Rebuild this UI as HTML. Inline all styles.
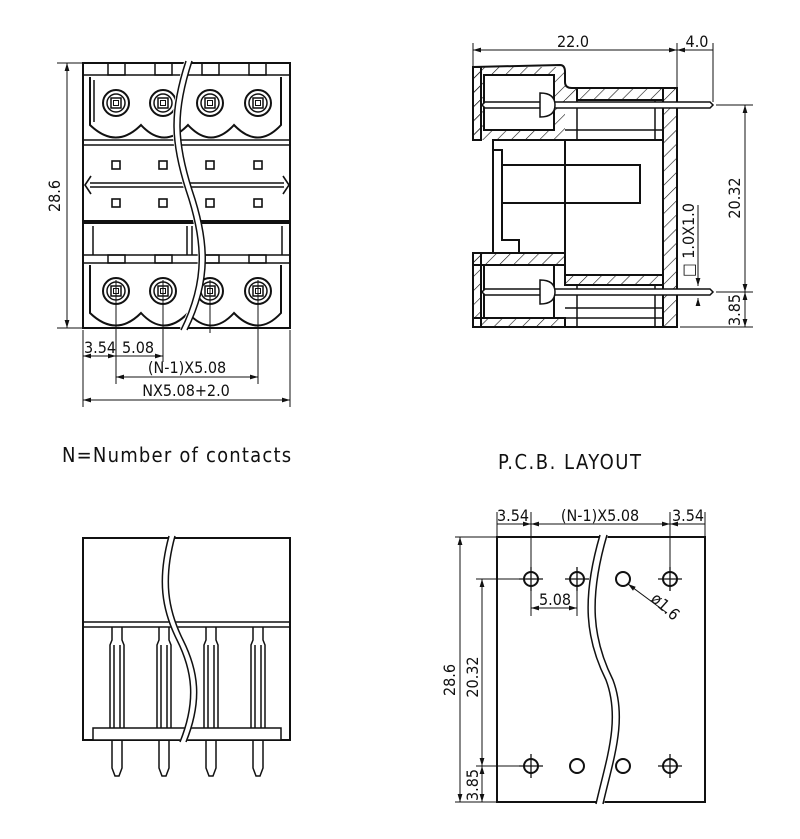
<!DOCTYPE html>
<html><head><meta charset="utf-8"><style>
html,body{margin:0;padding:0;background:#fff}
svg{display:block}
text{font-family:"DejaVu Sans Condensed","Liberation Sans",sans-serif;fill:#111}
</style></head><body>
<svg width="800" height="839" viewBox="0 0 800 839" xmlns="http://www.w3.org/2000/svg">
<defs>
<pattern id="h" width="10" height="10" patternUnits="userSpaceOnUse" patternTransform="rotate(45)">
<line x1="0" y1="0" x2="0" y2="10" stroke="#111" stroke-width="1.2"/>
</pattern>
<marker id="a" viewBox="0 0 10 10" refX="10" refY="5" markerWidth="8" markerHeight="8" orient="auto-start-reverse"><path d="M0,2 L10,5 L0,8 z" fill="#111"/></marker>
<g id="term">
<circle r="13" fill="none" stroke="#111" stroke-width="2"/>
<circle r="9" fill="none" stroke="#111" stroke-width="1.5"/>
<rect x="-5" y="-5" width="10" height="10" fill="none" stroke="#111" stroke-width="1.5"/>
<rect x="-2.5" y="-2.5" width="5" height="5" fill="none" stroke="#111" stroke-width="1"/>
</g>
<g id="hole"><circle r="7" fill="none" stroke="#111" stroke-width="2"/></g>
<g id="holex"><circle r="7" fill="none" stroke="#111" stroke-width="2"/><line x1="-12" y1="0" x2="12" y2="0" stroke="#111" stroke-width="1.3"/><line x1="0" y1="-12" x2="0" y2="12" stroke="#111" stroke-width="1.3"/></g>
</defs>
<g fill="none" stroke="#111" stroke-width="1.5">
<!-- TOP LEFT -->
<rect x="83" y="63" width="207" height="265" stroke-width="2"/>
<g stroke-width="1.5">
<rect x="108" y="63" width="17" height="12"/><rect x="155" y="63" width="17" height="12"/><rect x="202" y="63" width="17" height="12"/><rect x="249" y="63" width="17" height="12"/>
<line x1="83" y1="75" x2="290" y2="75"/>
<path d="M90,77 L90,125 Q116,150 141,125 Q164,150 188,125 Q211,150 234,125 Q258,150 281,125 L281,77" stroke-width="2"/>
<path d="M94,80 L94,122" />
<line x1="83" y1="140" x2="290" y2="140"/>
<line x1="83" y1="145" x2="290" y2="145"/>
</g>
<use href="#term" x="116" y="103"/><use href="#term" x="163" y="103"/><use href="#term" x="210" y="103"/><use href="#term" x="258" y="103"/>
<g stroke-width="1.6">
<rect x="112" y="161" width="8" height="8"/><rect x="159" y="161" width="8" height="8"/><rect x="206" y="161" width="8" height="8"/><rect x="254" y="161" width="8" height="8"/>
<rect x="112" y="199" width="8" height="8"/><rect x="159" y="199" width="8" height="8"/><rect x="206" y="199" width="8" height="8"/><rect x="254" y="199" width="8" height="8"/>
<line x1="90" y1="183" x2="284" y2="183"/><line x1="90" y1="187" x2="284" y2="187"/>
<path d="M91,176 L85,185 L91,194"/><path d="M283,176 L289,185 L283,194"/>
</g>
<line x1="83" y1="222" x2="290" y2="222" stroke-width="4"/>
<line x1="93" y1="226" x2="93" y2="255"/><line x1="282" y1="226" x2="282" y2="255"/>
<line x1="187" y1="226" x2="187" y2="255"/><line x1="192" y1="226" x2="192" y2="255"/>
<line x1="83" y1="255" x2="290" y2="255"/>
<rect x="108" y="255" width="17" height="8"/><rect x="155" y="255" width="17" height="8"/><rect x="202" y="255" width="17" height="8"/><rect x="249" y="255" width="17" height="8"/>
<line x1="83" y1="263" x2="290" y2="263"/>
<path d="M90,265 L90,313 Q116,338 141,313 Q164,338 188,313 Q211,338 234,313 Q258,338 281,313 L281,265" stroke-width="2"/>
<use href="#term" x="116" y="291"/><use href="#term" x="163" y="291"/><use href="#term" x="210" y="291"/><use href="#term" x="258" y="291"/>
<!-- break -->
<path d="M188,61 C172,110 172,140 188,190 C205,240 208,280 183,330" stroke="#fff" stroke-width="7"/>
<path d="M186,61 C170,110 170,140 186,190 C203,240 206,280 181,330"/>
<path d="M192,61 C176,110 176,140 192,190 C209,240 212,280 187,330"/>
<!-- dims -->
<g stroke-width="1">
<line x1="57" y1="63" x2="83" y2="63"/><line x1="57" y1="328" x2="83" y2="328"/>
<line x1="67" y1="63" x2="67" y2="328" marker-start="url(#a)" marker-end="url(#a)"/>
<line x1="83" y1="330" x2="83" y2="407"/><line x1="290" y1="330" x2="290" y2="407"/>
<line x1="116" y1="280" x2="116" y2="384"/><line x1="163" y1="280" x2="163" y2="362"/><line x1="258" y1="280" x2="258" y2="384"/><line x1="210" y1="280" x2="210" y2="333"/>
<line x1="83" y1="356" x2="116" y2="356" marker-start="url(#a)" marker-end="url(#a)"/>
<line x1="116" y1="356" x2="163" y2="356" marker-end="url(#a)"/>
<line x1="116" y1="377" x2="258" y2="377" marker-start="url(#a)" marker-end="url(#a)"/>
<line x1="83" y1="400" x2="290" y2="400" marker-start="url(#a)" marker-end="url(#a)"/>
</g>

<!-- TOP RIGHT side view -->
<g stroke-width="2">
<path d="M473,67 L560,65 Q565,65 565,72 L565,82 Q565,88 572,88 L677,88 L677,327 L663,327 L663,140 L493,140 L493,253 L565,253 L565,275 L663,275 M663,327 L473,327 L473,253 L493,253 M473,140 L473,67"/>
<path d="M473,67 L565,67 L565,80 Q565,88 572,88 L577,88 L577,100 L565,100 L565,140 L473,140 Z" fill="url(#h)" stroke-width="0"/>
<rect x="663" y="88" width="14" height="239" fill="url(#h)"/>
<rect x="577" y="88" width="86" height="12" fill="url(#h)"/>
<rect x="473" y="253" width="92" height="12" fill="url(#h)"/>
<rect x="565" y="275" width="98" height="10" fill="url(#h)"/>
<rect x="473" y="318" width="92" height="9" fill="url(#h)"/>
<rect x="473" y="67" width="8" height="73" fill="url(#h)"/>
<rect x="473" y="253" width="8" height="74" fill="url(#h)"/>
<rect x="484" y="75" width="70" height="55" fill="#fff"/>
<rect x="484" y="265" width="70" height="53" fill="#fff"/>
<line x1="565" y1="140" x2="565" y2="253"/>
<rect x="502" y="165" width="138" height="38"/>
<path d="M493,150 L502,150 L502,240 L519,240 L519,253"/>
</g>
<g stroke-width="1.5">
<line x1="577" y1="100" x2="577" y2="140"/><line x1="577" y1="285" x2="577" y2="327"/>
<line x1="565" y1="130" x2="663" y2="130"/><line x1="565" y1="318" x2="663" y2="318"/>
<line x1="565" y1="308" x2="663" y2="308"/>
<line x1="655" y1="100" x2="655" y2="140"/><line x1="655" y1="285" x2="655" y2="327"/>
<path d="M485,102 L710,102 L713,105 L710,108 L485,108 L482,105 Z" fill="#fff"/>
<path d="M485,289 L710,289 L713,292 L710,295 L485,295 L482,292 Z" fill="#fff"/>
<path d="M540,93 Q555,93 555,105 Q555,117 540,117 Z" fill="#fff"/>
<path d="M540,280 Q555,280 555,292 Q555,304 540,304 Z" fill="#fff"/>
</g>
<g stroke-width="1">
<line x1="473" y1="43" x2="473" y2="66"/><line x1="677" y1="43" x2="677" y2="88"/><line x1="713" y1="43" x2="713" y2="102"/>
<line x1="473" y1="50" x2="677" y2="50" marker-start="url(#a)" marker-end="url(#a)"/>
<line x1="677" y1="50" x2="713" y2="50" marker-start="url(#a)"/>
<line x1="716" y1="105" x2="753" y2="105"/><line x1="716" y1="292" x2="753" y2="292"/><line x1="680" y1="327" x2="753" y2="327"/>
<line x1="745" y1="105" x2="745" y2="292" marker-start="url(#a)" marker-end="url(#a)"/>
<line x1="745" y1="292" x2="745" y2="327" marker-start="url(#a)" marker-end="url(#a)"/>
<line x1="698" y1="205" x2="698" y2="286" marker-end="url(#a)"/>
<line x1="698" y1="306" x2="698" y2="298" marker-end="url(#a)"/>
</g>

<!-- BOTTOM LEFT -->
<rect x="83" y="538" width="207" height="202" stroke-width="2"/>
<line x1="83" y1="622" x2="290" y2="622"/><line x1="83" y1="627" x2="290" y2="627"/>
<rect x="93" y="728" width="188" height="12" fill="#fff"/>
<g stroke-width="1.5">
<path d="M112,627 L112,640 L110,645 L110,728 M122,627 L122,640 L124,645 L124,728 M114,645 L114,728 M120,645 L120,728"/>
<path d="M159,627 L159,640 L157,645 L157,728 M169,627 L169,640 L171,645 L171,728 M161,645 L161,728 M167,645 L167,728"/>
<path d="M206,627 L206,640 L204,645 L204,728 M216,627 L216,640 L218,645 L218,728 M208,645 L208,728 M214,645 L214,728"/>
<path d="M253,627 L253,640 L251,645 L251,728 M263,627 L263,640 L265,645 L265,728 M255,645 L255,728 M261,645 L261,728"/>
<path d="M112,740 L112,768 L115,776 L119,776 L122,768 L122,740"/>
<path d="M159,740 L159,768 L162,776 L166,776 L169,768 L169,740"/>
<path d="M206,740 L206,768 L209,776 L213,776 L216,768 L216,740"/>
<path d="M253,740 L253,768 L256,776 L260,776 L263,768 L263,740"/>
</g>
<path d="M172,536 C160,580 165,610 180,640 C195,670 200,700 183,742" stroke="#fff" stroke-width="7"/>
<path d="M169,536 C157,580 162,610 177,640 C192,670 197,700 180,742"/>
<path d="M175,536 C163,580 168,610 183,640 C198,670 203,700 186,742"/>

<!-- PCB -->
<rect x="497" y="537" width="208" height="265" stroke-width="2"/>
<path d="M604,535 C585,600 590,640 610,680 C625,720 610,760 600,804" stroke="#fff" stroke-width="8"/>
<path d="M600,535 C581,600 586,640 606,680 C621,720 606,760 596,804"/>
<path d="M607,535 C588,600 593,640 613,680 C628,720 613,760 603,804"/>
<use href="#holex" x="531" y="579"/><use href="#holex" x="577" y="579"/><use href="#hole" x="623" y="579"/><use href="#holex" x="670" y="579"/>
<use href="#holex" x="531" y="766"/><use href="#hole" x="577" y="766"/><use href="#hole" x="623" y="766"/><use href="#holex" x="670" y="766"/>
<g stroke-width="1">
<line x1="497" y1="512" x2="497" y2="536"/><line x1="531" y1="512" x2="531" y2="570"/><line x1="670" y1="512" x2="670" y2="570"/><line x1="705" y1="512" x2="705" y2="536"/>
<line x1="497" y1="524" x2="531" y2="524" marker-end="url(#a)"/>
<line x1="531" y1="524" x2="670" y2="524" marker-start="url(#a)" marker-end="url(#a)"/>
<line x1="670" y1="524" x2="705" y2="524" marker-start="url(#a)"/>
<line x1="531" y1="588" x2="531" y2="616"/><line x1="577" y1="588" x2="577" y2="616"/>
<line x1="531" y1="608" x2="577" y2="608" marker-start="url(#a)" marker-end="url(#a)"/>
<line x1="667" y1="613" x2="628" y2="584" marker-end="url(#a)"/>
<line x1="455" y1="537" x2="496" y2="537"/><line x1="455" y1="802" x2="496" y2="802"/>
<line x1="476" y1="579" x2="520" y2="579"/><line x1="476" y1="766" x2="520" y2="766"/>
<line x1="460" y1="537" x2="460" y2="802" marker-start="url(#a)" marker-end="url(#a)"/>
<line x1="482" y1="579" x2="482" y2="766" marker-start="url(#a)" marker-end="url(#a)"/>
<line x1="482" y1="766" x2="482" y2="802" marker-start="url(#a)" marker-end="url(#a)"/>
</g>
</g>

<!-- texts -->
<g font-size="16">
<text x="60" y="196" transform="rotate(-90 60 196)" text-anchor="middle">28.6</text>
<text x="84" y="353">3.54</text>
<text x="122" y="353">5.08</text>
<text x="187" y="373" text-anchor="middle">(N-1)X5.08</text>
<text x="186" y="396" text-anchor="middle">NX5.08+2.0</text>
<text x="573" y="47" text-anchor="middle">22.0</text>
<text x="697" y="47" text-anchor="middle">4.0</text>
<text x="740" y="198" transform="rotate(-90 740 198)" text-anchor="middle">20.32</text>
<text x="740" y="310" transform="rotate(-90 740 310)" text-anchor="middle">3.85</text>
<text x="694" y="240" transform="rotate(-90 694 240)" text-anchor="middle">□ 1.0X1.0</text>
<text x="513" y="521" text-anchor="middle">3.54</text>
<text x="600" y="521" text-anchor="middle">(N-1)X5.08</text>
<text x="688" y="521" text-anchor="middle">3.54</text>
<text x="555" y="605" text-anchor="middle">5.08</text>
<text x="650" y="600" transform="rotate(42 650 600)">ø1.6</text>
<text x="455" y="680" transform="rotate(-90 455 680)" text-anchor="middle">28.6</text>
<text x="478" y="677" transform="rotate(-90 478 677)" text-anchor="middle">20.32</text>
<text x="478" y="785" transform="rotate(-90 478 785)" text-anchor="middle">3.85</text>
</g>
<text x="62" y="462" font-size="20" letter-spacing="1.2">N=Number of contacts</text>
<text x="498" y="469" font-size="20" letter-spacing="1.5">P.C.B. LAYOUT</text>
</svg>
</body></html>
